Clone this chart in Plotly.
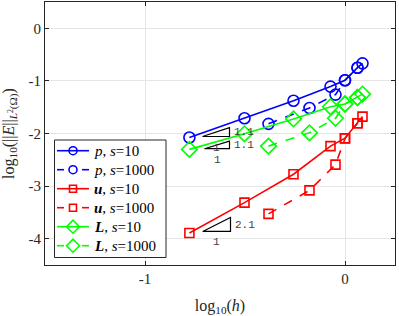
import plotly.graph_objects as go

# ---- data (log10 values) ----
h_s10 = [-0.778, -0.5025, -0.2575, -0.0725, 0.0, 0.0625, 0.0875]
h_s1000 = [-0.3825, -0.1775, -0.0475, 0.0, 0.0625]

p_s10 = [-2.075, -1.711, -1.377, -1.108, -0.987, -0.749, -0.666]
p_s1000 = [-1.817, -1.515, -1.260, -0.987, -0.749]

u_s10 = [-3.892, -3.315, -2.774, -2.240, -2.089, -1.806, -1.679]
u_s1000 = [-3.528, -3.081, -2.591, -2.094, -1.806]

L_s10 = [-2.302, -2.006, -1.723, -1.491, -1.440, -1.315, -1.251]
L_s1000 = [-2.240, -1.987, -1.711, -1.440, -1.315]

x_ticks = [-1, 0]
y_ticks = [0, -1, -2, -3, -4]

legend_names = [
    "<i>p</i>, <i>s</i>=10",
    "<i>p</i>, <i>s</i>=1000",
    "<b><i>u</i></b>, <i>s</i>=10",
    "<b><i>u</i></b>, <i>s</i>=1000",
    "<b><i>L</i></b>, <i>s</i>=10",
    "<b><i>L</i></b>, <i>s</i>=1000",
]

# slope triangles: right x, bottom y, width, height, label
tri_xr = [-0.5775, -0.5775, -0.5725]
tri_yb = [-2.057, -2.289, -3.862]
tri_w = [0.135, 0.125, 0.139]
tri_h = [0.170, 0.144, 0.264]
tri_lab = ["1.1", "1.1", "2.1"]

BLUE, RED, GREEN = "#0000FF", "#FF0000", "#00FF00"
serif = "Liberation Serif"

W, H = 399, 316
ML, MR, MT, MB = 45, 4, 2, 51

series = [
    (h_s10, p_s10, BLUE, "solid", "circle-open", 11, 8),
    (h_s1000, p_s1000, BLUE, "dash", "circle-open", 11, 8),
    (h_s10, u_s10, RED, "solid", "square-open", 9, 7),
    (h_s1000, u_s1000, RED, "dash", "square-open", 9, 7),
    (h_s10, L_s10, GREEN, "solid", "diamond-open", 12, 10),
    (h_s1000, L_s1000, GREEN, "dash", "diamond-open", 12, 10),
]

fig = go.Figure()

for (x, y, color, dash, symbol, size, _), name in zip(series, legend_names):
    fig.add_trace(go.Scatter(
        x=x, y=y, mode="lines+markers", name=name, showlegend=False,
        line=dict(color=color, width=1.6, dash=dash),
        marker=dict(symbol=symbol, size=size, color=color,
                    line=dict(color=color, width=1.6)),
        xaxis="x", yaxis="y",
    ))

# ---- manual legend drawn on an overlay axis in pixel units ----
box_x0, box_x1, box_y0, box_y1 = 54.5, 166, 140, 257.5
row0, row_gap = 150.7, 19.0
line_x0, line_x1, text_x = 57, 89, 92

fig.add_trace(go.Scatter(
    x=[box_x0, box_x1, box_x1, box_x0, box_x0],
    y=[box_y0, box_y0, box_y1, box_y1, box_y0],
    mode="lines", fill="toself", fillcolor="white",
    line=dict(color="#262626", width=1), showlegend=False, hoverinfo="skip",
    xaxis="x2", yaxis="y2",
))
annotations = []
for i, ((_, _, color, dash, symbol, _, lsize), name) in enumerate(zip(series, legend_names)):
    yy = row0 + i * row_gap
    xm = (line_x0 + line_x1) / 2
    if dash == "solid":
        segs = [([line_x0, line_x1], [yy, yy])]
    else:
        segs = [([line_x0, line_x0 + 7], [yy, yy]), ([line_x1 - 7, line_x1], [yy, yy])]
    for sx, sy in segs:
        fig.add_trace(go.Scatter(x=sx, y=sy, mode="lines", showlegend=False,
                                 line=dict(color=color, width=1.6),
                                 hoverinfo="skip", xaxis="x2", yaxis="y2"))
    fig.add_trace(go.Scatter(x=[xm], y=[yy], mode="markers", showlegend=False,
                             marker=dict(symbol=symbol, size=lsize, color=color,
                                         line=dict(color=color, width=1.6)),
                             hoverinfo="skip", xaxis="x2", yaxis="y2"))
    annotations.append(dict(x=text_x, y=yy, xref="x2", yref="y2", text=name,
                            showarrow=False, xanchor="left", yanchor="middle",
                            font=dict(family=serif, size=15, color="black")))

shapes = []
for xr, yb, w, hh, lab in zip(tri_xr, tri_yb, tri_w, tri_h, tri_lab):
    xl = xr - w
    yt = yb + hh
    shapes.append(dict(type="path", xref="x", yref="y",
                       path=f"M {xl} {yb} L {xr} {yb} L {xr} {yt} Z",
                       line=dict(color="black", width=1.2)))
    annotations.append(dict(x=xr, y=(yb + yt) / 2, xref="x", yref="y",
                            text=lab, showarrow=False, xanchor="left",
                            xshift=2, yanchor="middle",
                            font=dict(family="Liberation Mono", size=11, color="#404040")))
    annotations.append(dict(x=xr - w / 2, y=yb, xref="x", yref="y",
                            text="1", showarrow=False, xanchor="center",
                            yanchor="top", yshift=-3,
                            font=dict(family="Liberation Mono", size=11, color="#404040")))

axis_common = dict(
    showline=True, linecolor="#262626", linewidth=1, mirror="ticks",
    ticks="inside", ticklen=4, tickcolor="#262626",
    showgrid=True, gridcolor="#e5e5e5", gridwidth=1, zeroline=False,
    automargin=False,
    tickfont=dict(family=serif, size=15, color="#262626"),
)

fig.update_layout(
    width=W, height=H,
    margin=dict(l=ML, r=MR, t=MT, b=MB, autoexpand=False),
    paper_bgcolor="white", plot_bgcolor="white",
    shapes=shapes, annotations=annotations,
    xaxis=dict(range=[-1.5, 0.25], tickvals=x_ticks, ticktext=[str(v) for v in x_ticks],
               title=dict(text="log<sub>10</sub>(<i>h</i>)",
                          font=dict(family=serif, size=16, color="#262626")),
               **axis_common),
    yaxis=dict(range=[-4.5, 0.5], tickvals=y_ticks, ticktext=[str(v) for v in y_ticks],
               title=dict(text="log<sub>10</sub>(||<i>E</i>||<sub><i>L</i><sup>2</sup>(Ω)</sub>)",
                          font=dict(family=serif, size=16, color="#262626")),
               **axis_common),
    xaxis2=dict(range=[ML, W - MR], overlaying="x", visible=False, fixedrange=True),
    yaxis2=dict(range=[H - MB, MT], overlaying="y", visible=False, fixedrange=True),
    showlegend=False,
)

fig.write_html("out.html", config={"displayModeBar": False},
               post_script="document.body.style.margin='0';")
